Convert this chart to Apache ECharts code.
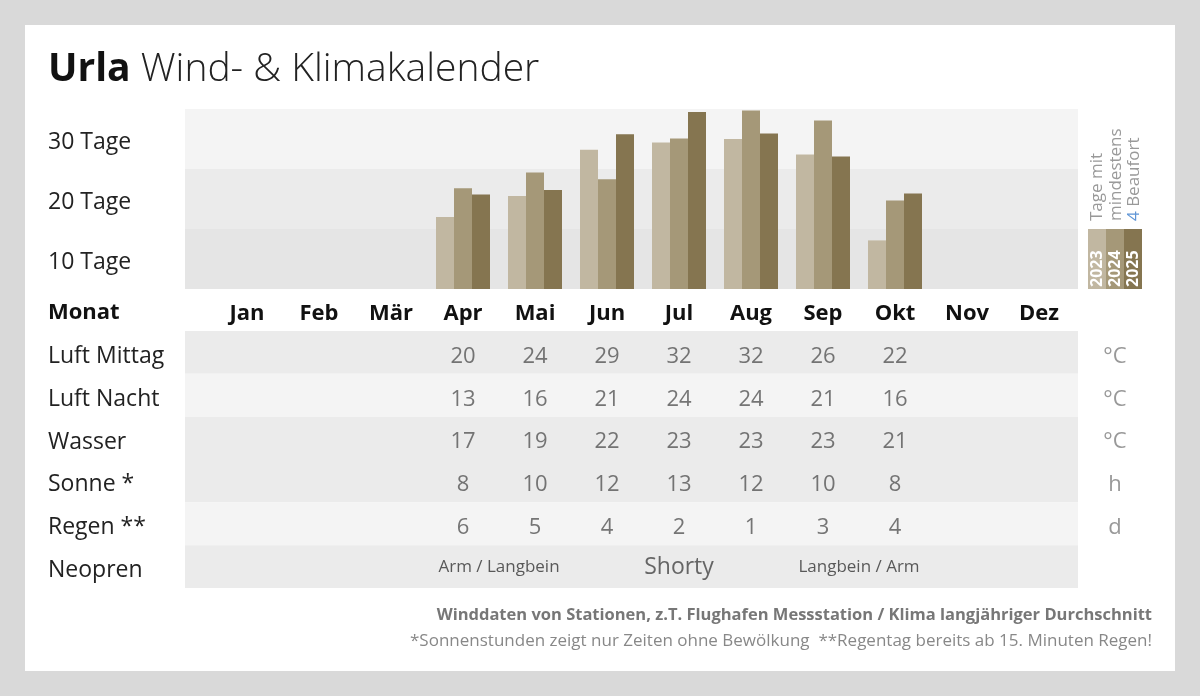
<!DOCTYPE html>
<html>
<head>
<meta charset="utf-8">
<script src="https://cdn.jsdelivr.net/npm/echarts@6/dist/echarts.min.js"></script>
<style>
  html, body { margin: 0; padding: 0; }
  #wrap { position: relative; width: 1200px; height: 696px; background: #d9d9d9; overflow: hidden; }
  #card { position: absolute; left: 25px; top: 25px; width: 1150px; height: 646px; background: #ffffff; }
  #chart { position: absolute; left: 0; top: 0; width: 1200px; height: 696px; }
</style>
</head>
<body>
<div id="wrap"><div id="card"></div><div id="chart"></div></div>
<script>
// ---------- data ----------
const months = ['Jan', 'Feb', 'Mär', 'Apr', 'Mai', 'Jun', 'Jul', 'Aug', 'Sep', 'Okt', 'Nov', 'Dez'];
const dayBands = ['10 Tage', '20 Tage', '30 Tage'];
const years = ['2023', '2024', '2025'];
// days with at least 4 Beaufort
const wind2023 = [null, null, null, 12, 15.5, 23.2, 24.4, 25, 22.4, 8.1, null, null];
const wind2024 = [null, null, null, 16.8, 19.4, 18.3, 25.1, 29.75, 28.1, 14.75, null, null];
const wind2025 = [null, null, null, 15.75, 16.5, 25.8, 29.5, 25.9, 22.1, 15.9, null, null];

const tableRows = ['Luft Mittag', 'Luft Nacht', 'Wasser', 'Sonne *', 'Regen **', 'Neopren'];
const tableUnits = ['°C', '°C', '°C', 'h', 'd', ''];
const luftMittag = [null, null, null, 20, 24, 29, 32, 32, 26, 22, null, null];
const luftNacht = [null, null, null, 13, 16, 21, 24, 24, 21, 16, null, null];
const wasser = [null, null, null, 17, 19, 22, 23, 23, 23, 21, null, null];
const sonne = [null, null, null, 8, 10, 12, 13, 12, 10, 8, null, null];
const regen = [null, null, null, 6, 5, 4, 2, 1, 3, 4, null, null];
const neopren = [
  { from: 'Apr', to: 'Mai', text: 'Arm / Langbein' },
  { from: 'Jun', to: 'Aug', text: 'Shorty' },
  { from: 'Sep', to: 'Okt', text: 'Langbein / Arm' }
];

// ---------- styling ----------
const FONT = '"Open Sans", "Noto Sans", sans-serif';
const barColors = ['#c1b7a1', '#a59878', '#857550'];
const neoprenFont = { 'Shorty': 23 };

const numericRows = [luftMittag, luftNacht, wasser, sonne, regen];
const tableData = [];
numericRows.forEach((arr, r) => {
  arr.forEach((v, m) => {
    if (v !== null) tableData.push([m, tableRows[r], v]);
  });
});
const neoData = neopren.map(n => {
  const mid = (months.indexOf(n.from) + months.indexOf(n.to)) / 2;
  return {
    value: [mid, 'Neopren', n.text],
    label: { fontSize: neoprenFont[n.text] || 17, color: neoprenFont[n.text] ? '#444' : '#333' }
  };
});

const chart = echarts.init(document.getElementById('chart'), null, { renderer: 'canvas' });

// background bands (exact positions) and text/data grids (nudged to optical centre)
const gridBarBg = { left: 185, right: 122, top: 109, height: 180 };
const gridBar = { left: 211, right: 125, top: 109, height: 180 };
const gridTabBg = { left: 185, right: 122, top: 331, height: 257 };
const gridTab = { left: 211, right: 125, top: 335, height: 257 };
const gridBarLbl = { left: 185, right: 122, top: 112, height: 180 };

const noAxisDeco = { axisLine: { show: false }, axisTick: { show: false }, splitLine: { show: false } };

const option = {
  backgroundColor: 'transparent',
  animation: false,
  textStyle: { fontFamily: FONT },
  grid: [gridBarBg, gridBar, gridTabBg, gridTab, gridBarLbl],
  xAxis: [
    { gridIndex: 0, type: 'value', min: 0, max: 1, show: false },
    {
      gridIndex: 1, type: 'category', data: months, ...noAxisDeco,
      axisLabel: { margin: 25, verticalAlign: 'middle', fontSize: 22, fontWeight: 'bold', color: '#111', fontFamily: FONT, interval: 0 }
    },
    { gridIndex: 2, type: 'value', min: 0, max: 1, show: false },
    { gridIndex: 3, type: 'value', min: -0.5, max: 11.5, show: false },
    { gridIndex: 4, type: 'value', min: 0, max: 1, show: false }
  ],
  yAxis: [
    {
      gridIndex: 0, type: 'category', data: dayBands, ...noAxisDeco,
      axisLabel: { show: false },
      splitArea: { show: true, areaStyle: { color: ['#e5e5e5', '#ebebeb', '#f4f4f4'] } }
    },
    { gridIndex: 1, type: 'value', min: 0, max: 30, show: false, splitLine: { show: false } },
    {
      gridIndex: 2, type: 'category', data: tableRows, inverse: true, ...noAxisDeco,
      axisLabel: { show: false },
      splitArea: { show: true, areaStyle: { color: ['#ebebeb', '#f4f4f4', '#ebebeb', '#ebebeb', '#f4f4f4', '#ebebeb'] } }
    },
    {
      gridIndex: 3, type: 'category', data: tableRows, inverse: true, ...noAxisDeco,
      axisLabel: { align: 'left', margin: 163, fontSize: 23, color: '#222', fontFamily: FONT }
    },
    {
      gridIndex: 3, type: 'category', data: tableUnits, inverse: true, position: 'right', ...noAxisDeco,
      axisLabel: { align: 'center', margin: 40, fontSize: 22, color: '#999', fontFamily: FONT }
    },
    {
      gridIndex: 4, type: 'category', data: dayBands, ...noAxisDeco,
      axisLabel: { align: 'left', margin: 137, fontSize: 23, color: '#222', fontFamily: FONT }
    }
  ],
  series: [
    { type: 'bar', name: years[0], xAxisIndex: 1, yAxisIndex: 1, data: wind2023, barWidth: 18, barGap: '0%', itemStyle: { color: barColors[0] } },
    { type: 'bar', name: years[1], xAxisIndex: 1, yAxisIndex: 1, data: wind2024, barWidth: 18, barGap: '0%', itemStyle: { color: barColors[1] } },
    { type: 'bar', name: years[2], xAxisIndex: 1, yAxisIndex: 1, data: wind2025, barWidth: 18, barGap: '0%', itemStyle: { color: barColors[2] } },
    {
      type: 'scatter', xAxisIndex: 3, yAxisIndex: 3, data: tableData, symbolSize: 1,
      itemStyle: { color: 'rgba(0,0,0,0)' },
      label: { show: true, position: 'inside', formatter: p => p.value[2], fontSize: 22, color: '#555', fontFamily: FONT }
    },
    {
      type: 'scatter', xAxisIndex: 3, yAxisIndex: 3, data: neoData, symbolSize: 1,
      itemStyle: { color: 'rgba(0,0,0,0)' },
      label: { show: true, position: 'inside', formatter: p => p.value[2], fontSize: 17, color: '#333', fontFamily: FONT, offset: [0, -3] }
    }
  ],
  graphic: [
    {
      type: 'text', left: 48, top: 50,
      style: {
        text: '{b|Urla}{l| Wind- & Klimakalender}',
        rich: {
          b: { fontSize: 39, fontWeight: 'bold', fill: '#111', fontFamily: FONT },
          l: { fontSize: 39, fontWeight: 300, fill: '#222', fontFamily: FONT }
        }
      }
    },
    {
      type: 'text', x: 48, y: 313,
      style: { text: 'Monat', fontSize: 22, fontWeight: 'bold', fill: '#111', fontFamily: FONT, verticalAlign: 'middle', align: 'left' }
    },
    // legend blocks
    { type: 'rect', shape: { x: 1088, y: 229, width: 18, height: 60 }, style: { fill: barColors[0] } },
    { type: 'rect', shape: { x: 1106, y: 229, width: 18, height: 60 }, style: { fill: barColors[1] } },
    { type: 'rect', shape: { x: 1124, y: 229, width: 18, height: 60 }, style: { fill: barColors[2] } },
    { type: 'text', x: 1097, y: 287, rotation: Math.PI / 2, style: { text: years[0], fontSize: 16, fontWeight: 'bold', fill: '#fff', fontFamily: FONT, align: 'left', verticalAlign: 'middle' } },
    { type: 'text', x: 1115, y: 287, rotation: Math.PI / 2, style: { text: years[1], fontSize: 16, fontWeight: 'bold', fill: '#fff', fontFamily: FONT, align: 'left', verticalAlign: 'middle' } },
    { type: 'text', x: 1133, y: 287, rotation: Math.PI / 2, style: { text: years[2], fontSize: 16, fontWeight: 'bold', fill: '#fff', fontFamily: FONT, align: 'left', verticalAlign: 'middle' } },
    { type: 'text', x: 1097, y: 221, rotation: Math.PI / 2, style: { text: 'Tage mit', fontSize: 17, fill: '#999', fontFamily: FONT, align: 'left', verticalAlign: 'middle' } },
    { type: 'text', x: 1116, y: 221, rotation: Math.PI / 2, style: { text: 'mindestens', fontSize: 17, fill: '#999', fontFamily: FONT, align: 'left', verticalAlign: 'middle' } },
    {
      type: 'text', x: 1134, y: 221, rotation: Math.PI / 2,
      style: {
        text: '{n|4}{t| Beaufort}', align: 'left', verticalAlign: 'middle',
        rich: {
          n: { fontSize: 17, fill: '#5f95d6', fontFamily: FONT },
          t: { fontSize: 17, fill: '#999', fontFamily: FONT }
        }
      }
    },
    // footer
    {
      type: 'text', x: 1152, y: 615,
      style: { text: 'Winddaten von Stationen, z.T. Flughafen Messstation / Klima langjähriger Durchschnitt', fontSize: 16.5, fontWeight: 'bold', fill: '#777', fontFamily: FONT, align: 'right', verticalAlign: 'middle' }
    },
    {
      type: 'text', x: 1152, y: 641,
      style: { text: '*Sonnenstunden zeigt nur Zeiten ohne Bewölkung  **Regentag bereits ab 15. Minuten Regen!', fontSize: 17, fill: '#888', fontFamily: FONT, align: 'right', verticalAlign: 'middle' }
    }
  ]
};
chart.setOption(option);
</script>
</body>
</html>
